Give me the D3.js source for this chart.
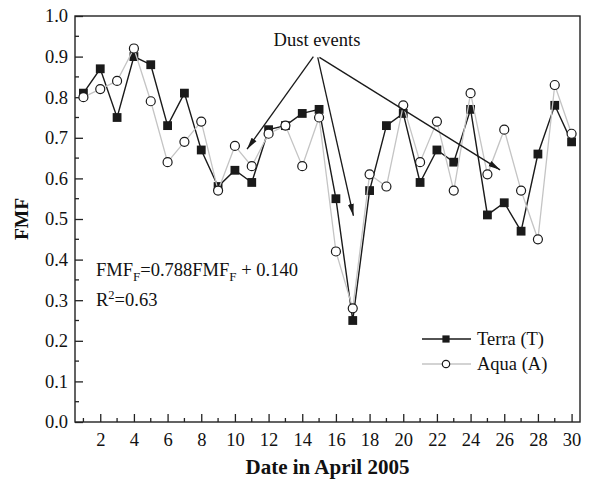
<!DOCTYPE html>
<html>
<head>
<meta charset="utf-8">
<script src="https://cdn.jsdelivr.net/npm/d3@7"></script>
<style>
  html, body { margin: 0; padding: 0; background: #fff; }
  svg text { font-family: "Liberation Serif", "Times New Roman", serif; fill: #111; }
</style>
</head>
<body>
<div id="chart"></div>
<script>
// 日期 (April 2005)
const days = d3.range(1, 31);
// Terra (T) FMF
const terra = [0.81, 0.87, 0.75, 0.90, 0.88, 0.73, 0.81, 0.67, 0.58, 0.62,
               0.59, 0.72, 0.73, 0.76, 0.77, 0.55, 0.25, 0.57, 0.73, 0.76,
               0.59, 0.67, 0.64, 0.77, 0.51, 0.54, 0.47, 0.66, 0.78, 0.69];
// Aqua (A) FMF
const aqua = [0.80, 0.82, 0.84, 0.92, 0.79, 0.64, 0.69, 0.74, 0.57, 0.68,
              0.63, 0.71, 0.73, 0.63, 0.75, 0.42, 0.28, 0.61, 0.58, 0.78,
              0.64, 0.74, 0.57, 0.81, 0.61, 0.72, 0.57, 0.45, 0.83, 0.71];
const xTicks = d3.range(2, 31, 2);
const yTicks = d3.range(0, 11).map(i => i / 10);
// dust event arrows: [fromDay, fromFMF, toDay, toFMF]
const dustArrows = [
  [14.66, 0.900, 10.72, 0.672],
  [14.92, 0.898, 17.04, 0.508],
  [15.02, 0.898, 25.75, 0.621]
];

const W = 591, H = 480;
const margin = { top: 16, right: 11, bottom: 58, left: 75 };

const svg = d3.select("#chart").append("svg")
  .attr("width", W).attr("height", H);

const x = d3.scaleLinear().domain([0.5, 30.5]).range([margin.left, W - margin.right]);
const y = d3.scaleLinear().domain([0, 1]).range([H - margin.bottom, margin.top]);

const x0 = margin.left, x1 = W - margin.right, y0 = H - margin.bottom, y1 = margin.top;

// 边框
svg.append("rect").attr("x", x0).attr("y", y1).attr("width", x1 - x0).attr("height", y0 - y1)
  .attr("fill", "none").attr("stroke", "#222").attr("stroke-width", 1.4);

// 坐标轴 (刻度朝内)
const xAxis = svg.append("g").attr("transform", `translate(0,${y0})`)
  .call(d3.axisBottom(x).tickValues(xTicks).tickSize(-8).tickPadding(11).tickFormat(d3.format("d")));
xAxis.select(".domain").remove();
xAxis.selectAll(".tick line").attr("stroke", "#222").attr("stroke-width", 1.3);
xAxis.selectAll("text").attr("font-size", 18.5).attr("fill", "#111");
svg.append("g").attr("transform", `translate(0,${y0})`)
  .selectAll("line").data(days.filter(d => d % 2 === 1)).join("line")
  .attr("x1", d => x(d)).attr("x2", d => x(d)).attr("y1", 0).attr("y2", -4)
  .attr("stroke", "#222").attr("stroke-width", 1.3);

const yAxis = svg.append("g").attr("transform", `translate(${x0},0)`)
  .call(d3.axisLeft(y).tickValues(yTicks).tickSize(-8).tickPadding(7).tickFormat(d3.format(".1f")));
yAxis.select(".domain").remove();
yAxis.selectAll(".tick line").attr("stroke", "#222").attr("stroke-width", 1.3);
yAxis.selectAll("text").attr("font-size", 18.5).attr("fill", "#111");
svg.append("g").attr("transform", `translate(${x0},0)`)
  .selectAll("line").data(d3.range(0, 10).map(i => i / 10 + 0.05)).join("line")
  .attr("x1", 0).attr("x2", 4).attr("y1", d => y(d)).attr("y2", d => y(d))
  .attr("stroke", "#222").attr("stroke-width", 1.3);

// 轴标题
svg.append("text").attr("x", (x0 + x1) / 2).attr("y", 474).attr("text-anchor", "middle")
  .attr("font-size", 21).attr("font-weight", "bold").text("Date in April 2005");
svg.append("text").attr("transform", `translate(28,${(y0 + y1) / 2}) rotate(-90)`)
  .attr("text-anchor", "middle").attr("font-size", 19.5).attr("font-weight", "bold").text("FMF");

// Terra 系列
const lineT = d3.line().x((d, i) => x(days[i])).y(d => y(d));
svg.append("path").datum(terra).attr("d", lineT)
  .attr("fill", "none").attr("stroke", "#1a1a1a").attr("stroke-width", 1.4);
svg.append("g").selectAll("rect").data(terra).join("rect")
  .attr("x", (d, i) => x(days[i]) - 4.4).attr("y", d => y(d) - 4.4)
  .attr("width", 8.8).attr("height", 8.8).attr("fill", "#1a1a1a");

// Aqua 系列
svg.append("path").datum(aqua).attr("d", lineT)
  .attr("fill", "none").attr("stroke", "#c4c4c4").attr("stroke-width", 1.3);
svg.append("g").selectAll("circle").data(aqua).join("circle")
  .attr("cx", (d, i) => x(days[i])).attr("cy", d => y(d)).attr("r", 4.5)
  .attr("fill", "#fff").attr("stroke", "#1a1a1a").attr("stroke-width", 1.2);

// 沙尘事件箭头
svg.append("defs").append("marker").attr("id", "arr")
  .attr("viewBox", "0 -4 12 8").attr("refX", 12).attr("refY", 0)
  .attr("markerWidth", 12).attr("markerHeight", 8).attr("markerUnits", "userSpaceOnUse")
  .attr("orient", "auto")
  .append("path").attr("d", "M0,-3L12,0L0,3Z").attr("fill", "#1a1a1a");
svg.append("g").selectAll("line").data(dustArrows).join("line")
  .attr("x1", d => x(d[0])).attr("y1", d => y(d[1]))
  .attr("x2", d => x(d[2])).attr("y2", d => y(d[3]))
  .attr("stroke", "#1a1a1a").attr("stroke-width", 1.3).attr("marker-end", "url(#arr)");
svg.append("text").attr("x", 317).attr("y", 46).attr("text-anchor", "middle")
  .attr("font-size", 18.5).text("Dust events");

// 回归方程
const eq = svg.append("text").attr("x", 96).attr("y", 276).attr("font-size", 18.5);
eq.append("tspan").text("FMF");
eq.append("tspan").attr("font-size", 13).attr("dy", 5).text("F");
eq.append("tspan").attr("dy", -5).text("=0.788FMF");
eq.append("tspan").attr("font-size", 13).attr("dy", 5).text("F");
eq.append("tspan").attr("dy", -5).text(" + 0.140");
const r2 = svg.append("text").attr("x", 96).attr("y", 306).attr("font-size", 18.5);
r2.append("tspan").text("R");
r2.append("tspan").attr("font-size", 12.5).attr("dy", -7).text("2");
r2.append("tspan").attr("dy", 7).text("=0.63");

// 图例
const legend = [
  { name: "Terra (T)", color: "#1a1a1a", mark: "rect", yy: 339 },
  { name: "Aqua (A)", color: "#c4c4c4", mark: "circle", yy: 364 }
];
legend.forEach(l => {
  const g = svg.append("g");
  g.append("line").attr("x1", 422).attr("x2", 471).attr("y1", l.yy).attr("y2", l.yy)
    .attr("stroke", l.color).attr("stroke-width", 1.4);
  if (l.mark === "rect") {
    g.append("rect").attr("x", 446 - 3.6).attr("y", l.yy - 3.6).attr("width", 7.2).attr("height", 7.2)
      .attr("fill", "#1a1a1a");
  } else {
    g.append("circle").attr("cx", 446).attr("cy", l.yy).attr("r", 3.7)
      .attr("fill", "#fff").attr("stroke", "#1a1a1a").attr("stroke-width", 1.2);
  }
  g.append("text").attr("x", 477).attr("y", l.yy + 6).attr("font-size", 18.5).text(l.name);
});
</script>
</body>
</html>
